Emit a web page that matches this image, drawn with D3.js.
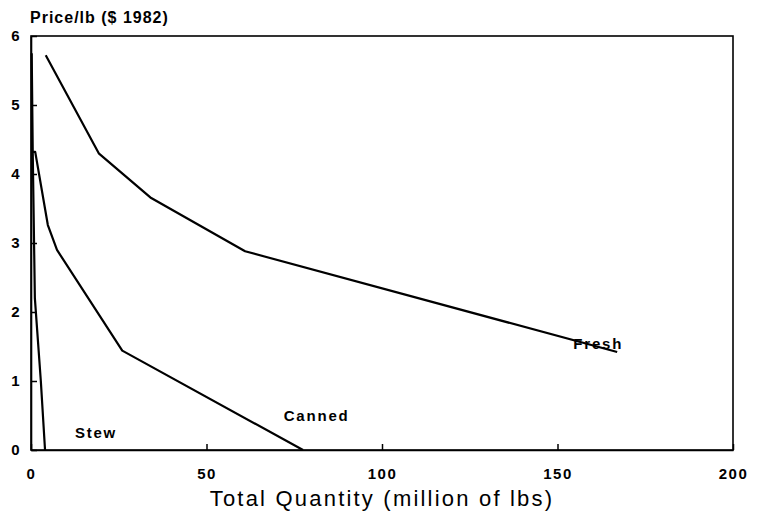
<!DOCTYPE html>
<html>
<head>
<meta charset="utf-8">
<script src="https://cdn.jsdelivr.net/npm/d3@7"></script>
<style>
  body { margin: 0; background: #fff; }
  text { font-family: "Liberation Sans", Arial, sans-serif; fill: #000; }
</style>
</head>
<body>
<div id="chart"></div>
<script>
/*data: quantity (million lbs) and price per lb ($ 1982)*/
var stewQty    = [0.2, 0.5, 1.1, 2.8, 4.0];
var stewPrice  = [5.75, 4.3, 2.2, 1.0, 0.0];
var cannedQty   = [0.3, 1.2, 4.8, 7.4, 26, 77.5];
var cannedPrice = [4.32, 4.32, 3.26, 2.9, 1.44, 0.0];
var freshQty   = [4.2, 19.3, 34, 61, 167];
var freshPrice = [5.72, 4.3, 3.66, 2.88, 1.42];
var seriesNames = ["Stew", "Canned", "Fresh"];
var xTicks = [0, 50, 100, 150, 200];
var yTicks = [0, 1, 2, 3, 4, 5, 6];

/*svg and plot area*/
var svgWidth = 758, svgHeight = 514;
var margin = { top: 36, right: 25, bottom: 64, left: 31 };
var width = svgWidth - margin.left - margin.right;
var height = svgHeight - margin.top - margin.bottom;

var svg = d3.select("#chart").append("svg")
  .attr("width", svgWidth)
  .attr("height", svgHeight);

var g = svg.append("g")
  .attr("transform", `translate(${margin.left}, ${margin.top})`);

var xScale = d3.scaleLinear().domain([0, 200]).range([0, width]);
var yScale = d3.scaleLinear().domain([0, 6]).range([height, 0]);

/*frame around the plot*/
g.append("rect")
  .attr("width", width)
  .attr("height", height)
  .attr("fill", "none")
  .attr("stroke", "#000")
  .attr("stroke-width", 1.6);

/*axes with ticks pointing inward*/
var bottomAxis = d3.axisBottom(xScale).tickValues(xTicks).tickFormat(d3.format("d"))
  .tickSizeInner(-6).tickSizeOuter(0).tickPadding(18);
var leftAxis = d3.axisLeft(yScale).tickValues(yTicks).tickFormat(d3.format("d"))
  .tickSizeInner(-6).tickSizeOuter(0).tickPadding(10);

var xAxisG = g.append("g")
  .attr("transform", `translate(0,${height})`)
  .call(bottomAxis);
var yAxisG = g.append("g").call(leftAxis);

[xAxisG, yAxisG].forEach(function(a) {
  a.select(".domain").attr("stroke", "#000").attr("stroke-width", 1.6);
  a.selectAll(".tick line").attr("stroke", "#000").attr("stroke-width", 1.5);
  a.selectAll(".tick text")
    .style("font-size", "15px")
    .style("font-weight", "bold")
    .style("letter-spacing", "1.5px")
    .attr("fill", "#000");
});

/*series lines*/
var line = d3.line()
  .x(d => xScale(d[0]))
  .y(d => yScale(d[1]));

var series = [
  d3.zip(stewQty, stewPrice),
  d3.zip(cannedQty, cannedPrice),
  d3.zip(freshQty, freshPrice)
];

g.selectAll(".series")
  .data(series)
  .enter()
  .append("path")
  .attr("class", "series")
  .attr("d", line)
  .attr("fill", "none")
  .attr("stroke", "#000")
  .attr("stroke-width", 2.2)
  .attr("stroke-linejoin", "round");

/*series labels placed in data units*/
var labelPos = [[12.5, 0.18], [72, 0.42], [154.5, 1.47]];
g.selectAll(".slabel")
  .data(seriesNames)
  .enter()
  .append("text")
  .attr("class", "slabel")
  .attr("x", (d, i) => xScale(labelPos[i][0]))
  .attr("y", (d, i) => yScale(labelPos[i][1]))
  .style("font-size", "15px")
  .style("font-weight", "bold")
  .style("letter-spacing", "1.8px")
  .text(d => d);

/*axis titles*/
svg.append("text")
  .attr("x", 30)
  .attr("y", 23)
  .style("font-size", "16px")
  .style("font-weight", "bold")
  .style("letter-spacing", "1px")
  .text("Price/lb ($ 1982)");

svg.append("text")
  .attr("x", margin.left + width / 2)
  .attr("y", 506)
  .attr("text-anchor", "middle")
  .style("font-size", "22px")
  .style("letter-spacing", "2.2px")
  .text("Total Quantity (million of lbs)");
</script>
</body>
</html>
